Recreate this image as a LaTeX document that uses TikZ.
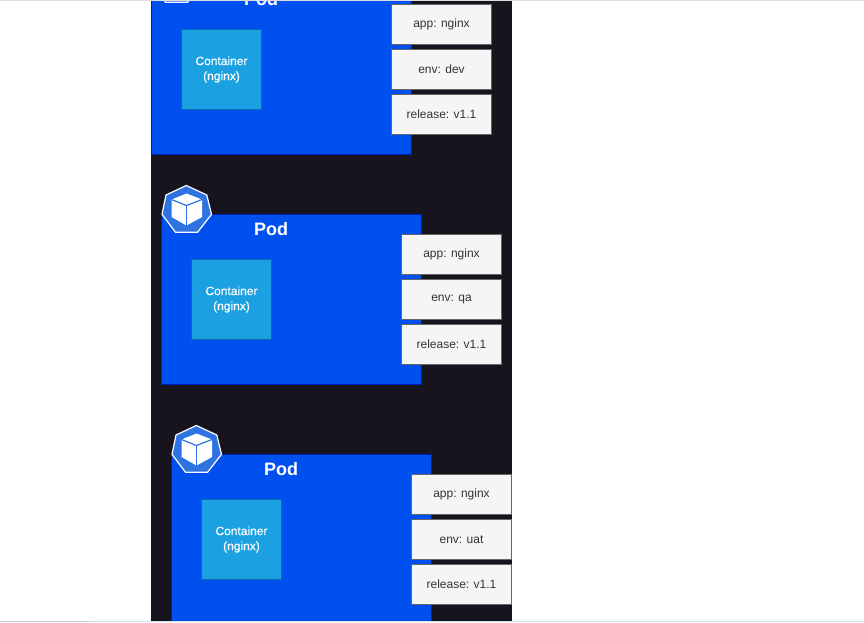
\documentclass[tikz,border=0pt]{standalone}
\usepackage{fontspec}
\setmainfont{Liberation Sans}
\newfontfamily\confont[FakeBold=0.25]{Liberation Sans}
\definecolor{dark}{HTML}{18141D}
\definecolor{podfill}{HTML}{0050EF}
\definecolor{podline}{HTML}{001DBC}
\definecolor{confill}{HTML}{1BA1E2}
\definecolor{conline}{HTML}{006EAF}
\definecolor{labfill}{HTML}{F5F5F5}
\definecolor{labline}{HTML}{666666}
\definecolor{labtext}{HTML}{333333}
\definecolor{hept}{HTML}{2F72E2}
\definecolor{topbar}{HTML}{DDDDDD}
\definecolor{barone}{HTML}{CCCCCC}
\definecolor{bartwo}{HTML}{D2E3EE}
\tikzset{
  px/.style={x=0.75pt,y=-0.75pt},
  podbox/.style={draw=podline,fill=podfill,line width=0.75pt,minimum width=195pt,minimum height=127.5pt,inner sep=0pt,outer sep=0pt},
  podtitle/.style={text=white,font=\fontsize{13.5pt}{16pt}\selectfont\bfseries,inner sep=0pt},
  conbox/.style={draw=conline,fill=confill,line width=0.75pt,minimum width=60pt,minimum height=60pt,inner sep=0pt,outer sep=0pt,text=white,align=center,font=\fontsize{9pt}{11.25pt}\confont},
  labbox/.style={draw=labline,fill=labfill,line width=0.75pt,minimum width=75pt,minimum height=30pt,inner sep=0pt,outer sep=0pt,text=labtext,font=\fontsize{9pt}{11pt}\selectfont},
  heptshape/.style={draw=white,fill=hept,line width=0.9pt,line join=round},
  cubeface/.style={fill=white,draw=none},
  cubeedge/.style={draw=hept,line width=0.9pt}
}
\newcommand{\podgroup}[4]{%
  \begin{scope}[shift={(#2,#3)}]
    \node[podbox,anchor=north west] (pod#1) at (161.5,214.5) {};
    \node[podtitle] (title#1) at (271,229) {Pod};
    \node[conbox] (con#1) at (231.5,299.5) {Container\\(nginx)};
    \node[labbox] (app#1) at (451.5,254.8) {app: nginx};
    \node[labbox] (env#1) at (451.5,299.5) {env: #4};
    \node[labbox] (rel#1) at (451.5,344.5) {release: v1.1};
    \path[heptshape] (186.3,185.5) -- (206.8,195) -- (211.5,214.3) -- (197.5,232.3) -- (175.5,232.3) -- (162,214.3) -- (166,195) -- cycle;
    \path[cubeface] (186.5,193.5) -- (202,199.5) -- (202,217) -- (186.5,225.5) -- (171.5,217) -- (171.5,199.5) -- cycle;
    \draw[cubeedge] (171.5,199.5) -- (186.5,205.5) -- (202,199.5);
    \draw[cubeedge] (186.5,205.5) -- (186.5,225.5);
  \end{scope}}
\begin{document}
\begin{tikzpicture}[px]
  \useasboundingbox (0,0) rectangle (864,622);
  \fill[white] (0,0) rectangle (864,622);
  \fill[dark] (151,0) rectangle (512,620.5);
  \begin{scope}
    \clip (0,0) rectangle (864,620.5);
    \podgroup{one}{-10}{-230}{dev}
    \podgroup{two}{0}{0}{qa}
    \podgroup{three}{10}{240}{uat}
  \end{scope}
  \fill[topbar] (0,0) rectangle (864,1);
  \fill[barone] (0,620.5) rectangle (90,622);
  \fill[bartwo] (90,620.5) rectangle (864,622);
\end{tikzpicture}
\end{document}
